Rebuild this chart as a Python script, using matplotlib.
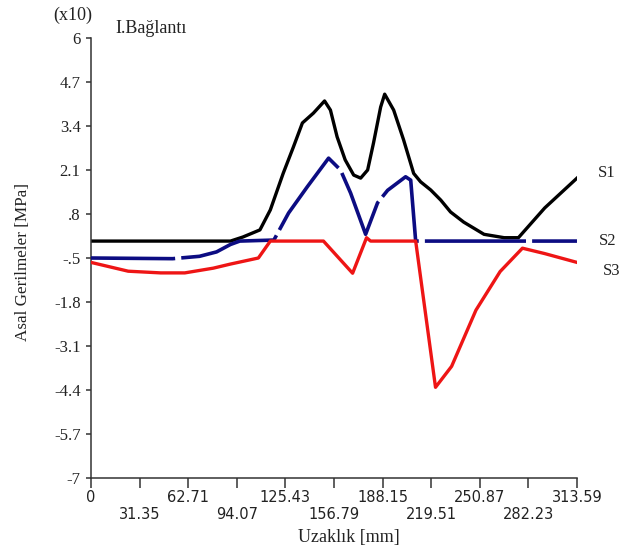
import numpy as np
import matplotlib.pyplot as plt

# Veriler (x10 MPa)
s1_x = [0, 90, 98, 109, 115.7, 124, 130.6, 136.4, 143.5, 150.7, 154.5, 158.8, 164,
        169.5, 174, 178.5, 182.3, 186.9, 189.5, 195.3, 201.7, 208.2, 212.7, 219.2,
        225.7, 232, 240.5, 253.6, 266.6, 275.8, 292.8, 313.59]
s1_y = [0, 0, 0.12, 0.33, 0.92, 2.0, 2.78, 3.49, 3.78, 4.14, 3.87, 3.08, 2.4,
        1.95, 1.86, 2.1, 2.9, 3.96, 4.34, 3.87, 2.99, 2.0, 1.75, 1.51,
        1.21, 0.86, 0.56, 0.2, 0.1, 0.1, 0.98, 1.86]

s2_x = [0, 52.7, 70, 81, 90, 96, 118, 127.5, 139.5, 153.3, 161, 167.5, 177.2,
        184.9, 191.4, 203, 206.3, 209.5, 313.59]
s2_y = [-0.5, -0.52, -0.45, -0.32, -0.1, 0, 0.03, 0.83, 1.6, 2.45, 2.1, 1.42, 0.2,
        1.13, 1.5, 1.9, 1.8, 0, 0]

s3_x = [0, 24, 45, 60.5, 78.9, 89.9, 108, 115.7, 150, 168.8, 177.8, 180.4, 209.5,
        222.3, 232.7, 248.4, 264, 278.4, 292.8, 313.59]
s3_y = [-0.63, -0.89, -0.94, -0.94, -0.8, -0.68, -0.5, 0, 0, -0.95, 0.1, 0, 0,
        -4.32, -3.7, -2.04, -0.9, -0.21, -0.37, -0.63]

x_labels = ['0', '31.35', '62.71', '94.07', '125.43', '156.79', '188.15',
            '219.51', '250.87', '282.23', '313.59']
y_ticks = [6, 4.7, 3.4, 2.1, 0.8, -0.5, -1.8, -3.1, -4.4, -5.7, -7]
y_labels = ['6', '4.7', '3.4', '2.1', '.8', '-.5', '-1.8', '-3.1', '-4.4', '-5.7', '-7']

serif = 'Liberation Serif'
txt = '#222222'

fig = plt.figure(figsize=(6.29, 5.53), dpi=100)
ax = fig.add_axes([0.1447, 0.1356, 0.7726, 0.7957])

ax.plot(s1_x, s1_y, color='black', lw=2.4, zorder=2)
ax.plot(s2_x, s2_y, color='#0c0c82', lw=2.6, zorder=3,
        linestyle=(4.7, (28, 1.7)), dash_capstyle='butt')
ax.plot(s3_x, s3_y, color='#ee1515', lw=2.4, zorder=4)

ax.set_xlim(0, 313.59)
ax.set_ylim(-7, 6)

x_pos = np.arange(len(x_labels)) * 31.359
ax.set_xticks(x_pos)
ax.set_xticklabels([lab if i % 2 == 0 else '\n' + lab for i, lab in enumerate(x_labels)],
                   fontsize=10.5, family='DejaVu Sans', color=txt)
ax.set_yticks(y_ticks)
ax.set_yticklabels(y_labels, fontsize=12, family=serif, color=txt)

ax.tick_params(axis='x', direction='out', length=7.5, width=1.1, pad=1, color='#333333')
ax.tick_params(axis='y', direction='out', length=3.5, width=1.1, pad=4, color='#333333')
for s in ['top', 'right']:
    ax.spines[s].set_visible(False)
for s in ['left', 'bottom']:
    ax.spines[s].set_linewidth(1.1)
    ax.spines[s].set_color('#333333')

ax.set_xlabel('Uzaklık [mm]', fontsize=13, family=serif, color=txt)
ax.xaxis.set_label_coords(0.531, -0.135)
ax.xaxis.label.set_va('center')
ax.set_ylabel('Asal Gerilmeler [MPa]', fontsize=12.3, family=serif, color=txt)
ax.yaxis.set_label_coords(-0.14, 0.49)
ax.yaxis.label.set_va('center')

fig.text(0.146, 0.972, '(x10)', ha='right', va='center', fontsize=13, family=serif, color=txt)
fig.text(0.183, 0.9476, 'I.Bağlantı', ha='left', va='center', fontsize=13, family=serif, color=txt)

ax.text(327, 2.01, 'S1', ha='left', va='center', fontsize=12, family=serif, clip_on=False, color=txt)
ax.text(328, -0.01, 'S2', ha='left', va='center', fontsize=12, family=serif, clip_on=False, color=txt)
ax.text(330, -0.88, 'S3', ha='left', va='center', fontsize=12, family=serif, clip_on=False, color=txt)

fig.savefig('out.png', dpi=100)
